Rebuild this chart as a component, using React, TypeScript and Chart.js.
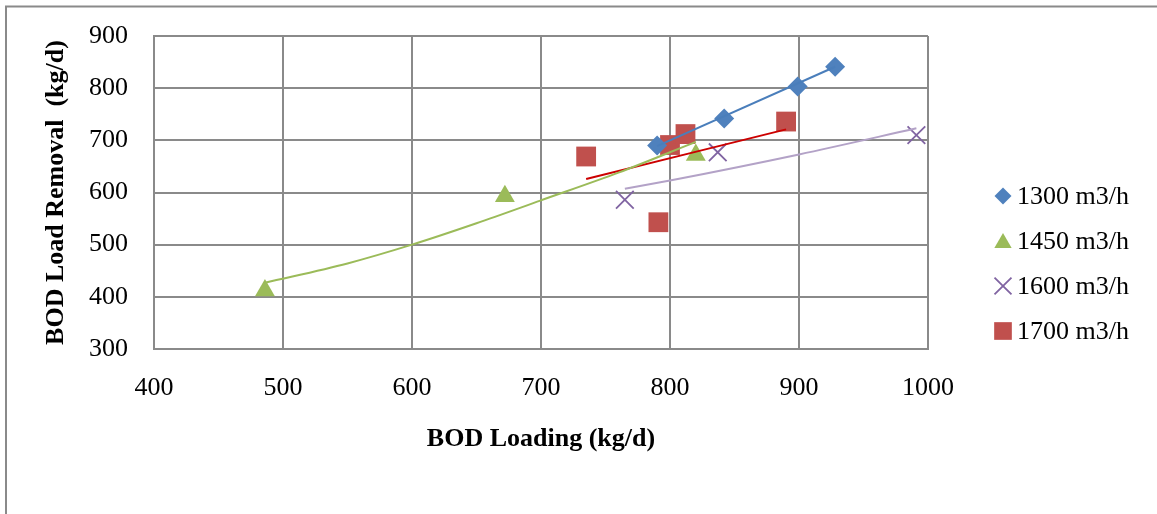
import React, { useEffect, useRef } from 'react';
import { Chart, registerables } from 'chart.js';

Chart.register(...registerables);

// Series names
const seriesLabels = ['1300 m3/h', '1450 m3/h', '1600 m3/h', '1700 m3/h'];

// Measured points: BOD loading (x) vs BOD load removal (y), kg/d
const loading1300 = [790, 842, 899, 928];
const removal1300 = [690, 742, 803, 841];
const loading1450 = [486, 672, 820];
const removal1450 = [412, 593, 672];
const loading1600 = [765, 837, 991];
const removal1600 = [586, 677, 710];
const loading1700 = [735, 791, 800, 812, 890];
const removal1700 = [669, 543, 691, 712, 736];

// Trend lines for each flow rate
const trendX1300 = [790, 928];
const trendY1300 = [689, 841];
const trendX1450 = [486, 550, 600, 650, 700, 760, 820];
const trendY1450 = [427, 464, 500, 541, 585, 638, 697];
const trendX1600 = [765, 800, 900, 991];
const trendY1600 = [607, 623, 673, 723];
const trendX1700 = [735, 890];
const trendY1700 = [626, 721];

// Axis ticks
const xTicks = [400, 500, 600, 700, 800, 900, 1000];
const yTicks = [300, 400, 500, 600, 700, 800, 900];

const markerColors = ['#4F81BD', '#9BBB59', '#8064A2', '#C0504D'];
const trendColors = ['#4A7EBB', '#9BBB59', '#B3A2C7', '#CC0000'];
const pointStyles = ['rectRot', 'triangle', 'crossRot', 'rect'];
const pointSizes = [10, 11.5, 12.5, 14];

const FONT = "'Liberation Serif', 'Times New Roman', serif";
const GRID = '#8A8A8A';

const pairs = (xs: number[], ys: number[]) => xs.map((x, i) => ({ x, y: ys[i] }));

const markerData = [
  pairs(loading1300, removal1300),
  pairs(loading1450, removal1450),
  pairs(loading1600, removal1600),
  pairs(loading1700, removal1700),
];
const trendData = [
  pairs(trendX1300, trendY1300),
  pairs(trendX1450, trendY1450),
  pairs(trendX1600, trendY1600),
  pairs(trendX1700, trendY1700),
];

// Outer frame of the chart object (top and left edges)
const framePlugin = {
  id: 'frame',
  beforeDraw(chart: any) {
    const ctx = chart.ctx as CanvasRenderingContext2D;
    ctx.save();
    ctx.fillStyle = '#ffffff';
    ctx.fillRect(0, 0, chart.width, chart.height);
    ctx.strokeStyle = GRID;
    ctx.lineWidth = 2;
    ctx.beginPath();
    ctx.moveTo(6, chart.height);
    ctx.lineTo(6, 6.5);
    ctx.lineTo(chart.width, 6.5);
    ctx.stroke();
    ctx.restore();
  },
};

function drawMarker(ctx: CanvasRenderingContext2D, style: string, x: number, y: number, r: number, color: string) {
  ctx.save();
  ctx.fillStyle = color;
  ctx.strokeStyle = color;
  ctx.beginPath();
  if (style === 'rectRot') {
    ctx.moveTo(x - r, y);
    ctx.lineTo(x, y - r);
    ctx.lineTo(x + r, y);
    ctx.lineTo(x, y + r);
    ctx.closePath();
    ctx.fill();
  } else if (style === 'triangle') {
    ctx.moveTo(x, y - r);
    ctx.lineTo(x + r * 0.866, y + r * 0.5);
    ctx.lineTo(x - r * 0.866, y + r * 0.5);
    ctx.closePath();
    ctx.fill();
  } else if (style === 'crossRot') {
    const d = r * Math.SQRT1_2;
    ctx.lineWidth = 1.8;
    ctx.moveTo(x - d, y - d);
    ctx.lineTo(x + d, y + d);
    ctx.moveTo(x - d, y + d);
    ctx.lineTo(x + d, y - d);
    ctx.stroke();
  } else {
    const h = r * Math.SQRT1_2;
    ctx.rect(x - h, y - h, 2 * h, 2 * h);
    ctx.fill();
  }
  ctx.restore();
}

// Legend at the right, one row per flow rate
const sideLegendPlugin = {
  id: 'sideLegend',
  afterDraw(chart: any) {
    const ctx = chart.ctx as CanvasRenderingContext2D;
    const items = chart.data.datasets.filter((d: any) => d.legendMarker);
    ctx.save();
    ctx.font = `26px ${FONT}`;
    ctx.fillStyle = '#000000';
    ctx.textBaseline = 'middle';
    ctx.textAlign = 'left';
    items.forEach((d: any, i: number) => {
      const y = 196 + i * 45;
      const size = d.pointStyle === 'rect' ? 12.5 : d.pointStyle === 'triangle' ? 10 : d.pointStyle === 'crossRot' ? 12 : 8.5;
      drawMarker(ctx, d.pointStyle, 1003, y + (d.pointStyle === 'triangle' ? 2 : 0), size, d.borderColor);
      ctx.fillText(d.label, 1017, y + 1);
    });
    ctx.restore();
  },
};

export default function App() {
  const canvasRef = useRef<HTMLCanvasElement>(null);

  useEffect(() => {
    if (!canvasRef.current) return;

    const markerSets = markerData.map((data, i) => ({
      label: seriesLabels[i],
      data,
      legendMarker: true,
      order: 1,
      pointStyle: pointStyles[i],
      pointRadius: pointSizes[i],
      pointHoverRadius: pointSizes[i],
      backgroundColor: markerColors[i],
      borderColor: markerColors[i],
      pointBorderWidth: pointStyles[i] === 'crossRot' ? 1.8 : 0,
      showLine: false,
    }));

    const trendSets = trendData.map((data, i) => ({
      label: seriesLabels[i] + ' trend',
      data,
      order: 0,
      showLine: true,
      pointRadius: 0,
      pointHoverRadius: 0,
      borderColor: trendColors[i],
      backgroundColor: trendColors[i],
      borderWidth: 2,
      fill: false,
      cubicInterpolationMode: 'monotone',
    }));

    const chart = new Chart(canvasRef.current, {
      type: 'scatter',
      data: { datasets: [...markerSets, ...trendSets] as any },
      options: {
        responsive: false,
        animation: false,
        devicePixelRatio: 1,
        layout: { padding: { left: 0, top: 36, right: 229, bottom: 59 } },
        plugins: {
          legend: { display: false },
          tooltip: { enabled: false },
        },
        scales: {
          x: {
            type: 'linear',
            min: xTicks[0],
            max: xTicks[xTicks.length - 1],
            afterBuildTicks: (scale: any) => {
              scale.ticks = xTicks.map((v) => ({ value: v }));
            },
            afterFit: (scale: any) => {
              scale.height = 106;
            },
            ticks: {
              padding: 24,
              color: '#000000',
              font: { family: FONT, size: 26 },
              callback: (v: any) => String(v),
            },
            grid: { color: GRID, lineWidth: 2, drawTicks: false },
            border: { color: GRID, width: 2 },
            title: {
              display: true,
              text: 'BOD Loading (kg/d)',
              color: '#000000',
              font: { family: FONT, size: 26, weight: 'bold' },
              padding: { top: 0, bottom: 0 },
            },
          },
          y: {
            type: 'linear',
            min: yTicks[0],
            max: yTicks[yTicks.length - 1],
            afterBuildTicks: (scale: any) => {
              scale.ticks = yTicks.map((v) => ({ value: v }));
            },
            afterFit: (scale: any) => {
              scale.width = 154;
            },
            ticks: {
              padding: 2,
              color: '#000000',
              font: { family: FONT, size: 26 },
              callback: (v: any) => String(v),
            },
            grid: {
              color: GRID,
              lineWidth: 2,
              drawTicks: true,
              tickLength: 24,
              tickColor: 'rgba(0,0,0,0)',
            },
            border: { color: GRID, width: 2 },
            title: {
              display: true,
              text: 'BOD Load Removal  (kg/d)',
              color: '#000000',
              font: { family: FONT, size: 26, weight: 'bold' },
              padding: { top: 41, bottom: 0 },
            },
          },
        },
      } as any,
      plugins: [framePlugin, sideLegendPlugin],
    });

    return () => chart.destroy();
  }, []);

  return (
    <div style={{ position: 'absolute', left: 0, top: 0, width: 1157, height: 514, background: '#ffffff' }}>
      <canvas
        ref={canvasRef}
        width={1157}
        height={514}
        style={{ display: 'block', width: 1157, height: 514 }}
      />
    </div>
  );
}
